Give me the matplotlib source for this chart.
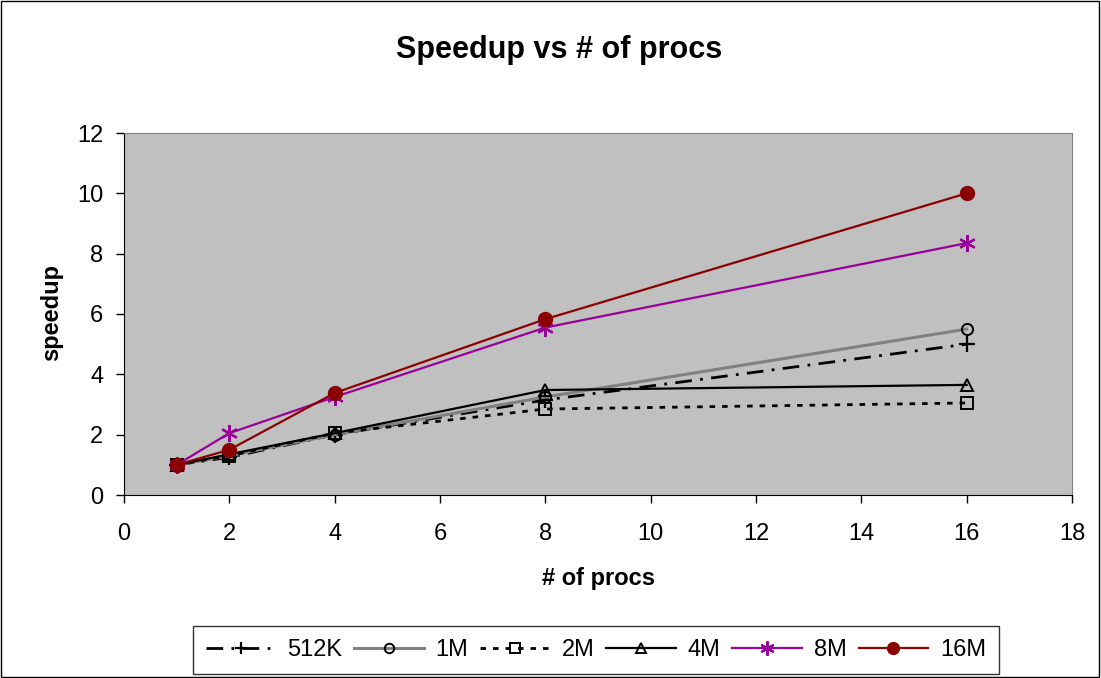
import matplotlib
matplotlib.use('Agg')
import matplotlib.pyplot as plt
from matplotlib.patches import Rectangle

plt.rcParams['font.family'] = ['Liberation Sans', 'DejaVu Sans']

# processor counts and speedup per problem size
procs = [1, 2, 4, 8, 16]
speedup_512k = [1.0, 1.25, 2.0, 3.15, 5.0]
speedup_1m = [1.0, 1.3, 2.0, 3.25, 5.5]
speedup_2m = [1.0, 1.3, 2.05, 2.85, 3.05]
speedup_4m = [1.0, 1.35, 2.05, 3.48, 3.65]
speedup_8m = [1.0, 2.05, 3.25, 5.55, 8.35]
speedup_16m = [1.0, 1.5, 3.38, 5.83, 10.0]

W, H = 1101, 678
fig = plt.figure(figsize=(W / 100, H / 100), dpi=100)
ax = fig.add_axes([124 / W, 1 - 495 / H, (1072 - 124) / W, (495 - 133) / H])
ax.set_facecolor('#C0C0C0')

ms = 8
ax.plot(procs, speedup_512k, color='black', linestyle=(0, (6, 3, 1, 3)), linewidth=2,
        marker='+', markersize=11, markeredgewidth=1.6, label='512K')
ax.plot(procs, speedup_1m, color='#808080', linestyle='-', linewidth=2.2,
        marker='o', markersize=ms, markerfacecolor='none', markeredgecolor='black', markeredgewidth=1.4, label='1M')
ax.plot(procs, speedup_2m, color='black', linestyle=(0, (2, 2.5)), linewidth=2,
        marker='s', markersize=ms, markerfacecolor='none', markeredgecolor='black', markeredgewidth=1.4, label='2M')
ax.plot(procs, speedup_4m, color='black', linestyle='-', linewidth=1.6,
        marker='^', markersize=ms, markerfacecolor='none', markeredgecolor='black', markeredgewidth=1.4, label='4M')
ax.plot(procs, speedup_8m, color='#990099', linestyle='-', linewidth=1.6,
        marker=(6, 2, 0), markersize=12, markeredgewidth=1.6, label='8M')
ax.plot(procs, speedup_16m, color='#8B0000', linestyle='-', linewidth=1.6,
        marker='o', markersize=10, markerfacecolor='#8B0000', label='16M')

ax.set_xlim(0, 18)
ax.set_ylim(0, 12)
ax.set_xticks(range(0, 19, 2))
ax.set_yticks(range(0, 13, 2))
ax.tick_params(labelsize=17, direction='out', length=6, width=1)
ax.tick_params(axis='x', pad=14)
ax.tick_params(axis='y', pad=9)
for side in ['top', 'right']:
    ax.spines[side].set_color('#808080')
for side in ['left', 'bottom']:
    ax.spines[side].set_color('black')

fig.text(559 / W, 1 - 50 / H, 'Speedup vs # of procs', fontsize=22, fontweight='bold',
         ha='center', va='center')
fig.text(598 / W, 1 - 578 / H, '# of procs', fontsize=17, fontweight='bold',
         ha='center', va='center')
fig.text(52 / W, 1 - 312 / H, 'speedup', fontsize=17, fontweight='bold',
         ha='center', va='center', rotation=90)

leg = fig.legend(loc='center', bbox_to_anchor=(596 / W, 1 - 650 / H), ncol=6, fontsize=17,
                 frameon=True, fancybox=False, edgecolor='black', handlelength=2.95,
                 handletextpad=0.5, columnspacing=0.5, borderpad=0.55, markerscale=0.85)
leg.get_frame().set_linewidth(1)

# outer chart border
fig.patches.append(Rectangle((0.001, 0.001), 0.997, 0.997, transform=fig.transFigure,
                             fill=False, edgecolor='black', linewidth=1))

fig.savefig('out.png', dpi=100)
